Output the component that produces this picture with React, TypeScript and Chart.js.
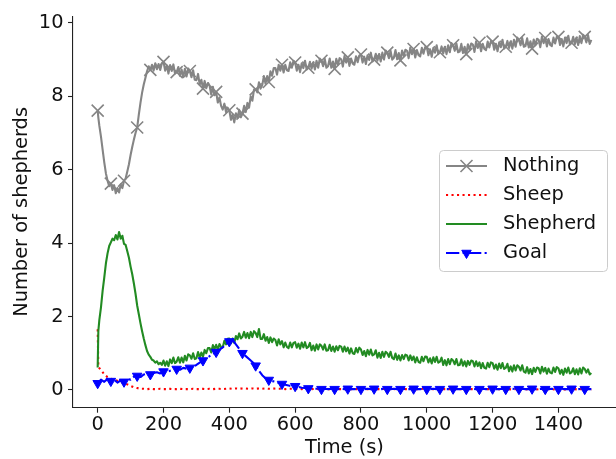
import React, { useEffect, useRef } from "react";
import { Chart, registerables } from "chart.js";

Chart.register(...registerables);

// Sample times (s) for the red/blue series: 0, 2, then every 10 s
const TIMES = [
  0, 2, 10, 20, 30, 40, 50, 60, 70, 80, 90,
  100, 110, 120, 130, 140, 150, 160, 170, 180, 190,
  200, 210, 220, 230, 240, 250, 260, 270, 280, 290,
  300, 310, 320, 330, 340, 350, 360, 370, 380, 390,
  400, 410, 420, 430, 440, 450, 460, 470, 480, 490,
  500, 510, 520, 530, 540, 550, 560, 570, 580, 590,
  600, 610, 620, 630, 640, 650, 660, 670, 680, 690,
  700, 710, 720, 730, 740, 750, 760, 770, 780, 790,
  800, 810, 820, 830, 840, 850, 860, 870, 880, 890,
  900, 910, 920, 930, 940, 950, 960, 970, 980, 990,
  1000, 1010, 1020, 1030, 1040, 1050, 1060, 1070, 1080, 1090,
  1100, 1110, 1120, 1130, 1140, 1150, 1160, 1170, 1180, 1190,
  1200, 1210, 1220, 1230, 1240, 1250, 1260, 1270, 1280, 1290,
  1300, 1310, 1320, 1330, 1340, 1350, 1360, 1370, 1380, 1390,
  1400, 1410, 1420, 1430, 1440, 1450, 1460, 1470, 1480, 1490,
  1500,
];

// Sample times (s) for the noisy grey/green series: 0, 2, then every 5 s
const TIMES_FINE = [
  0, 2, 5, 10, 15, 20, 25, 30, 35, 40, 45, 50, 55, 60, 65, 70, 75, 80, 85, 90, 95,
  100, 105, 110, 115, 120, 125, 130, 135, 140, 145, 150, 155, 160, 165, 170, 175, 180, 185, 190, 195,
  200, 205, 210, 215, 220, 225, 230, 235, 240, 245, 250, 255, 260, 265, 270, 275, 280, 285, 290, 295,
  300, 305, 310, 315, 320, 325, 330, 335, 340, 345, 350, 355, 360, 365, 370, 375, 380, 385, 390, 395,
  400, 405, 410, 415, 420, 425, 430, 435, 440, 445, 450, 455, 460, 465, 470, 475, 480, 485, 490, 495,
  500, 505, 510, 515, 520, 525, 530, 535, 540, 545, 550, 555, 560, 565, 570, 575, 580, 585, 590, 595,
  600, 605, 610, 615, 620, 625, 630, 635, 640, 645, 650, 655, 660, 665, 670, 675, 680, 685, 690, 695,
  700, 705, 710, 715, 720, 725, 730, 735, 740, 745, 750, 755, 760, 765, 770, 775, 780, 785, 790, 795,
  800, 805, 810, 815, 820, 825, 830, 835, 840, 845, 850, 855, 860, 865, 870, 875, 880, 885, 890, 895,
  900, 905, 910, 915, 920, 925, 930, 935, 940, 945, 950, 955, 960, 965, 970, 975, 980, 985, 990, 995,
  1000, 1005, 1010, 1015, 1020, 1025, 1030, 1035, 1040, 1045, 1050, 1055, 1060, 1065, 1070, 1075, 1080, 1085, 1090, 1095,
  1100, 1105, 1110, 1115, 1120, 1125, 1130, 1135, 1140, 1145, 1150, 1155, 1160, 1165, 1170, 1175, 1180, 1185, 1190, 1195,
  1200, 1205, 1210, 1215, 1220, 1225, 1230, 1235, 1240, 1245, 1250, 1255, 1260, 1265, 1270, 1275, 1280, 1285, 1290, 1295,
  1300, 1305, 1310, 1315, 1320, 1325, 1330, 1335, 1340, 1345, 1350, 1355, 1360, 1365, 1370, 1375, 1380, 1385, 1390, 1395,
  1400, 1405, 1410, 1415, 1420, 1425, 1430, 1435, 1440, 1445, 1450, 1455, 1460, 1465, 1470, 1475, 1480, 1485, 1490, 1495,
  1500,
];

const NOTHING = [
  7.61, 7.42, 7.2, 6.9, 6.55, 6.2, 5.9, 5.7, 5.55, 5.62, 5.45, 5.58, 5.36, 5.5, 5.38, 5.6, 5.5, 5.7, 5.76, 5.95, 6.15,
  6.4, 6.62, 6.82, 7.0, 7.15, 7.5, 7.82, 8.1, 8.32, 8.5, 8.68, 8.82, 8.72, 8.86, 8.7, 8.9, 8.74, 8.88, 8.72, 8.9,
  8.94, 8.70, 8.84, 8.62, 8.85, 8.69, 8.87, 8.62, 8.66, 8.80, 8.56, 8.73, 8.52, 8.75, 8.54, 8.76, 8.69, 8.52, 8.71, 8.45,
  8.44, 8.61, 8.32, 8.45, 8.21, 8.42, 8.22, 8.36, 8.29, 8.05, 8.26, 8.03, 8.12, 7.83, 7.97, 7.74, 7.64, 7.80, 7.57, 7.69,
  7.62, 7.36, 7.50, 7.29, 7.54, 7.41, 7.63, 7.43, 7.53, 7.74, 7.57, 7.82, 7.69, 8.00, 7.88, 8.18, 8.19, 8.11, 8.38, 8.21,
  8.30, 8.55, 8.34, 8.55, 8.39, 8.68, 8.56, 8.77, 8.77, 8.59, 8.86, 8.70, 8.86, 8.65, 8.86, 8.71, 8.69, 8.93, 8.78, 8.97,
  8.92, 8.70, 8.86, 8.66, 8.90, 8.77, 8.97, 8.73, 8.78, 8.94, 8.75, 8.93, 8.73, 8.97, 8.78, 9.03, 8.97, 8.82, 9.02, 8.78,
  8.82, 9.03, 8.78, 8.95, 8.75, 9.02, 8.86, 9.04, 9.01, 8.81, 9.10, 8.92, 9.06, 8.83, 9.03, 8.89, 8.86, 9.09, 8.93, 9.11,
  9.14, 8.92, 9.08, 8.88, 9.12, 8.99, 9.19, 8.95, 9.00, 9.16, 8.97, 9.15, 8.95, 9.19, 9.00, 9.25, 9.19, 9.04, 9.24, 9.00,
  9.05, 9.26, 9.01, 9.18, 8.98, 9.25, 9.09, 9.27, 9.24, 9.04, 9.33, 9.15, 9.29, 9.06, 9.26, 9.12, 9.09, 9.32, 9.16, 9.34,
  9.34, 9.12, 9.28, 9.08, 9.32, 9.19, 9.39, 9.15, 9.20, 9.36, 9.17, 9.35, 9.15, 9.39, 9.20, 9.45, 9.39, 9.24, 9.44, 9.20,
  9.22, 9.43, 9.18, 9.35, 9.15, 9.42, 9.26, 9.44, 9.41, 9.21, 9.50, 9.32, 9.46, 9.23, 9.43, 9.29, 9.26, 9.49, 9.33, 9.51,
  9.49, 9.27, 9.43, 9.23, 9.47, 9.34, 9.54, 9.30, 9.35, 9.51, 9.32, 9.50, 9.30, 9.54, 9.35, 9.60, 9.54, 9.39, 9.59, 9.35,
  9.37, 9.58, 9.33, 9.50, 9.30, 9.55, 9.39, 9.57, 9.54, 9.34, 9.63, 9.45, 9.59, 9.36, 9.56, 9.40, 9.37, 9.60, 9.44, 9.62,
  9.62, 9.40, 9.56, 9.36, 9.60, 9.45, 9.65, 9.41, 9.46, 9.62, 9.42, 9.60, 9.40, 9.64, 9.45, 9.68, 9.62, 9.47, 9.67, 9.43,
  9.54,
];

const SHEPHERD = [
  0.61, 1.6, 1.9, 2.25, 2.7, 3.06, 3.45, 3.72, 3.92, 4.02, 4.12, 4.08, 4.22, 4.1, 4.3, 4.12, 4.2, 3.98, 3.95, 3.78, 3.6,
  3.36, 3.15, 2.9, 2.62, 2.3, 2.06, 1.82, 1.6, 1.4, 1.22, 1.06, 0.96, 0.9, 0.82, 0.8, 0.74, 0.78, 0.7, 0.74, 0.68,
  0.80, 0.66, 0.78, 0.65, 0.83, 0.73, 0.88, 0.73, 0.77, 0.89, 0.74, 0.88, 0.75, 0.93, 0.80, 0.97, 0.94, 0.85, 1.00, 0.84,
  0.86, 1.03, 0.88, 1.02, 0.90, 1.09, 1.00, 1.14, 1.14, 1.02, 1.22, 1.11, 1.23, 1.09, 1.25, 1.16, 1.16, 1.34, 1.24, 1.39,
  1.40, 1.27, 1.40, 1.28, 1.47, 1.38, 1.54, 1.40, 1.45, 1.58, 1.42, 1.55, 1.41, 1.58, 1.44, 1.60, 1.55, 1.44, 1.66, 1.39,
  1.39, 1.52, 1.34, 1.44, 1.28, 1.43, 1.30, 1.40, 1.36, 1.21, 1.38, 1.24, 1.33, 1.16, 1.29, 1.17, 1.14, 1.29, 1.16, 1.28,
  1.30, 1.15, 1.26, 1.12, 1.29, 1.16, 1.30, 1.14, 1.17, 1.28, 1.08, 1.21, 1.07, 1.24, 1.10, 1.24, 1.20, 1.10, 1.24, 1.07,
  1.08, 1.23, 1.06, 1.18, 1.04, 1.19, 1.08, 1.20, 1.18, 1.04, 1.18, 1.05, 1.15, 0.99, 1.13, 1.00, 0.98, 1.14, 1.02, 1.15,
  1.10, 0.95, 1.06, 0.92, 1.09, 0.96, 1.10, 0.94, 0.97, 1.08, 0.88, 1.01, 0.87, 1.04, 0.90, 1.04, 1.00, 0.90, 1.04, 0.87,
  0.84, 0.99, 0.82, 0.94, 0.80, 0.95, 0.84, 0.96, 0.94, 0.80, 0.94, 0.81, 0.91, 0.75, 0.89, 0.76, 0.74, 0.90, 0.78, 0.91,
  0.90, 0.75, 0.86, 0.72, 0.89, 0.76, 0.90, 0.74, 0.77, 0.88, 0.68, 0.81, 0.67, 0.84, 0.70, 0.84, 0.80, 0.70, 0.84, 0.67,
  0.68, 0.83, 0.66, 0.78, 0.64, 0.79, 0.68, 0.80, 0.78, 0.64, 0.78, 0.65, 0.75, 0.59, 0.73, 0.60, 0.58, 0.74, 0.62, 0.75,
  0.73, 0.58, 0.69, 0.55, 0.72, 0.59, 0.73, 0.57, 0.60, 0.71, 0.51, 0.64, 0.50, 0.67, 0.53, 0.67, 0.63, 0.53, 0.67, 0.50,
  0.47, 0.62, 0.45, 0.57, 0.43, 0.60, 0.49, 0.61, 0.59, 0.45, 0.63, 0.50, 0.60, 0.44, 0.58, 0.47, 0.45, 0.61, 0.49, 0.62,
  0.59, 0.44, 0.55, 0.41, 0.58, 0.47, 0.61, 0.45, 0.48, 0.59, 0.43, 0.56, 0.42, 0.59, 0.45, 0.61, 0.57, 0.47, 0.56, 0.42,
  0.46,
];

const SHEEP = [
  1.65, 0.62, 0.55, 0.42, 0.35, 0.3, 0.28, 0.25, 0.22, 0.19, 0.15,
  0.11, 0.07, 0.05, 0.03, 0.03, 0.02, 0.03, 0.02, 0.02, 0.03,
  0.02, 0.02, 0.03, 0.02, 0.02, 0.03, 0.02, 0.02, 0.02, 0.03,
  0.02, 0.02, 0.03, 0.02, 0.03, 0.02, 0.03, 0.03, 0.02, 0.03,
  0.04, 0.03, 0.04, 0.03, 0.04, 0.04, 0.03, 0.04, 0.03, 0.04,
  0.03, 0.04, 0.03, 0.03, 0.04, 0.03, 0.03, 0.02, 0.03, 0.03,
  0.02, 0.03, 0.02, 0.03, 0.02, 0.02, 0.03, 0.02, 0.02, 0.03,
  0.02, 0.02, 0.03, 0.02, 0.02, 0.02, 0.03, 0.02, 0.02, 0.02,
  0.03, 0.02, 0.02, 0.02, 0.03, 0.02, 0.02, 0.03, 0.02, 0.02,
  0.02, 0.03, 0.02, 0.02, 0.02, 0.03, 0.02, 0.02, 0.02, 0.03,
  0.02, 0.02, 0.02, 0.03, 0.02, 0.02, 0.02, 0.02, 0.03, 0.02,
  0.02, 0.02, 0.03, 0.02, 0.02, 0.02, 0.02, 0.03, 0.02, 0.02,
  0.02, 0.01, 0.02, 0.01, 0.02, 0.02, 0.01, 0.02, 0.01, 0.02,
  0.02, 0.01, 0.02, 0.01, 0.02, 0.02, 0.01, 0.02, 0.01, 0.02,
  0.01, 0.02, 0.01, 0.02, 0.01, 0.02, 0.01, 0.02, 0.01, 0.01,
  0.01,
];

const GOAL = [
  0.18, 0.2, 0.28, 0.22, 0.3, 0.24, 0.28, 0.2, 0.26, 0.22, 0.3,
  0.28, 0.36, 0.38, 0.35, 0.42, 0.44, 0.42, 0.46, 0.48, 0.45,
  0.5, 0.48, 0.52, 0.55, 0.57, 0.55, 0.6, 0.58, 0.6, 0.64,
  0.68, 0.74, 0.8, 0.86, 0.92, 0.98, 1.03, 1.1, 1.16, 1.24,
  1.32, 1.37, 1.24, 1.12, 1.0, 0.92, 0.84, 0.76, 0.66, 0.52,
  0.4, 0.32, 0.27, 0.24, 0.22, 0.19, 0.16, 0.14, 0.12, 0.1,
  0.1, 0.08, 0.06, 0.05, 0.04, 0.04, 0.03, 0.03, 0.02, 0.03,
  0.02, 0.03, 0.02, 0.02, 0.03, 0.02, 0.03, 0.02, 0.02, 0.03,
  0.02, 0.02, 0.03, 0.02, 0.03, 0.02, 0.02, 0.03, 0.02, 0.02,
  0.03, 0.02, 0.02, 0.03, 0.02, 0.02, 0.03, 0.02, 0.02, 0.03,
  0.02, 0.02, 0.03, 0.02, 0.02, 0.03, 0.02, 0.02, 0.03, 0.02,
  0.02, 0.03, 0.02, 0.02, 0.03, 0.02, 0.02, 0.03, 0.02, 0.02,
  0.03, 0.02, 0.02, 0.03, 0.02, 0.02, 0.03, 0.02, 0.02, 0.03,
  0.02, 0.02, 0.03, 0.02, 0.02, 0.03, 0.02, 0.02, 0.03, 0.02,
  0.02, 0.03, 0.02, 0.02, 0.03, 0.02, 0.02, 0.03, 0.02, 0.02,
  0.02,
];

const SERIES_NAMES = ["Nothing", "Sheep", "Shepherd", "Goal"];
const X_TICKS = [0, 200, 400, 600, 800, 1000, 1200, 1400];
const Y_TICKS = [0, 2, 4, 6, 8, 10];
const X_LABEL = "Time (s)";
const Y_LABEL = "Number of shepherds";
const MARKER_EVERY = 40;

const FONT_FAMILY = "'DejaVu Sans', 'Liberation Sans', sans-serif";
const FONT_SIZE = 19.4;
const TEXT_COLOR = "#111111";

const GREY = "#858585";
const RED = "#ff0000";
const GREEN = "#228B22";
const BLUE = "#0000ff";
const DOT_DASH = [2.1, 3.4];
const DASH_DOT = [13.3, 3.3, 2.1, 3.3];

function toPoints(times: number[], values: number[]) {
  return times.map((t, i) => ({ x: t, y: values[i] }));
}

function markerRadius(r: number) {
  return (ctx: any) => {
    const raw = ctx.raw;
    return raw && raw.x % MARKER_EVERY === 0 ? r : 0;
  };
}

const insideLegend = {
  id: "insideLegend",
  afterDraw(chart: any) {
    const ctx: CanvasRenderingContext2D = chart.ctx;
    ctx.save();
    const bx = 439.5, by = 150.5, bw = 168, bh = 121;
    ctx.beginPath();
    (ctx as any).roundRect(bx, by, bw, bh, 4);
    ctx.fillStyle = "rgba(255,255,255,0.8)";
    ctx.fill();
    ctx.lineWidth = 1;
    ctx.strokeStyle = "#cccccc";
    ctx.stroke();

    const rows = [166, 195, 224, 253];
    const x0 = 446, x1 = 487, xm = 466.5, xt = 503;
    const styles = [
      { color: GREY, dash: [] as number[], marker: "x" },
      { color: RED, dash: DOT_DASH, marker: "" },
      { color: GREEN, dash: [] as number[], marker: "" },
      { color: BLUE, dash: DASH_DOT, marker: "tri" },
    ];
    styles.forEach((s, i) => {
      const y = rows[i];
      ctx.beginPath();
      ctx.setLineDash(s.dash);
      ctx.lineWidth = 2.1;
      ctx.strokeStyle = s.color;
      ctx.moveTo(x0, y);
      ctx.lineTo(x1, y);
      ctx.stroke();
      ctx.setLineDash([]);
      if (s.marker === "x") {
        const h = 6;
        ctx.beginPath();
        ctx.lineWidth = 1.6;
        ctx.moveTo(xm - h, y - h);
        ctx.lineTo(xm + h, y + h);
        ctx.moveTo(xm - h, y + h);
        ctx.lineTo(xm + h, y - h);
        ctx.stroke();
      } else if (s.marker === "tri") {
        const r = 5.5;
        ctx.beginPath();
        ctx.moveTo(xm, y + r);
        ctx.lineTo(xm - r * 0.866, y - r * 0.5);
        ctx.lineTo(xm + r * 0.866, y - r * 0.5);
        ctx.closePath();
        ctx.fillStyle = s.color;
        ctx.fill();
        ctx.lineWidth = 1;
        ctx.stroke();
      }
      ctx.fillStyle = TEXT_COLOR;
      ctx.font = `${FONT_SIZE}px ${FONT_FAMILY}`;
      ctx.textAlign = "left";
      ctx.textBaseline = "middle";
      ctx.fillText(SERIES_NAMES[i], xt, y);
    });
    ctx.restore();
  },
};

export default function App() {
  const ref = useRef<HTMLCanvasElement | null>(null);

  useEffect(() => {
    if (!ref.current) return;
    const font = { family: FONT_FAMILY, size: FONT_SIZE };
    const chart = new Chart(ref.current, {
      type: "line",
      data: {
        datasets: [
          {
            label: SERIES_NAMES[0],
            data: toPoints(TIMES_FINE, NOTHING),
            borderColor: GREY,
            borderWidth: 2.1,
            pointStyle: "crossRot",
            pointRadius: markerRadius(8.5),
            pointBorderColor: GREY,
            pointBorderWidth: 1.6,
            pointHoverRadius: 0,
            order: 3,
          },
          {
            label: SERIES_NAMES[1],
            data: toPoints(TIMES, SHEEP),
            borderColor: RED,
            borderWidth: 2.1,
            borderDash: DOT_DASH,
            pointRadius: 0,
            pointHoverRadius: 0,
            order: 2,
          },
          {
            label: SERIES_NAMES[2],
            data: toPoints(TIMES_FINE, SHEPHERD),
            borderColor: GREEN,
            borderWidth: 2.1,
            pointRadius: 0,
            pointHoverRadius: 0,
            order: 1,
          },
          {
            label: SERIES_NAMES[3],
            data: toPoints(TIMES, GOAL),
            borderColor: BLUE,
            borderWidth: 2.1,
            borderDash: DASH_DOT,
            pointStyle: "triangle",
            rotation: 180,
            pointRadius: markerRadius(5.5),
            pointBackgroundColor: BLUE,
            pointBorderColor: BLUE,
            pointBorderWidth: 1,
            pointHoverRadius: 0,
            order: 0,
          },
        ] as any,
      },
      options: {
        animation: false,
        responsive: false,
        devicePixelRatio: 1,
        events: [],
        layout: { autoPadding: false, padding: { top: 15, right: 0, left: 0, bottom: 0 } },
        elements: { line: { tension: 0, borderCapStyle: "butt", borderJoinStyle: "round" } },
        plugins: {
          legend: { display: false },
          tooltip: { enabled: false },
          title: { display: false },
        },
        scales: {
          x: {
            type: "linear",
            min: -75,
            max: 1575,
            afterBuildTicks: (axis: any) => {
              axis.ticks = X_TICKS.map((v) => ({ value: v }));
            },
            afterFit: (s: any) => {
              s.height = 51.3;
            },
            grid: {
              drawOnChartArea: false,
              drawTicks: true,
              tickLength: 5,
              tickWidth: 1.1,
              tickColor: "#222",
            },
            border: { display: true, color: "#222", width: 1.1 },
            ticks: {
              font,
              color: TEXT_COLOR,
              padding: 1,
              maxRotation: 0,
              autoSkip: false,
              callback: (v: any) => String(v),
            },
            title: {
              display: true,
              text: X_LABEL,
              font,
              color: TEXT_COLOR,
              padding: { top: 0, bottom: -1 },
            },
          },
          y: {
            type: "linear",
            min: -0.485,
            max: 10.185,
            afterBuildTicks: (axis: any) => {
              axis.ticks = Y_TICKS.map((v) => ({ value: v }));
            },
            afterFit: (s: any) => {
              s.width = 73;
            },
            grid: {
              drawOnChartArea: false,
              drawTicks: true,
              tickLength: 5,
              tickWidth: 1.1,
              tickColor: "#222",
            },
            border: { display: true, color: "#222", width: 1.1 },
            ticks: {
              font,
              color: TEXT_COLOR,
              padding: 4.5,
              autoSkip: false,
              callback: (v: any) => String(v),
            },
            title: {
              display: true,
              text: Y_LABEL,
              font,
              color: TEXT_COLOR,
              padding: { top: 10, bottom: 0 },
            },
          },
        },
      } as any,
      plugins: [insideLegend],
    });
    return () => chart.destroy();
  }, []);

  return (
    <div style={{ position: "absolute", left: 0, top: 0, width: 616, height: 459, background: "#fff" }}>
      <canvas ref={ref} width={616} height={459} style={{ display: "block", width: 616, height: 459 }} />
    </div>
  );
}
